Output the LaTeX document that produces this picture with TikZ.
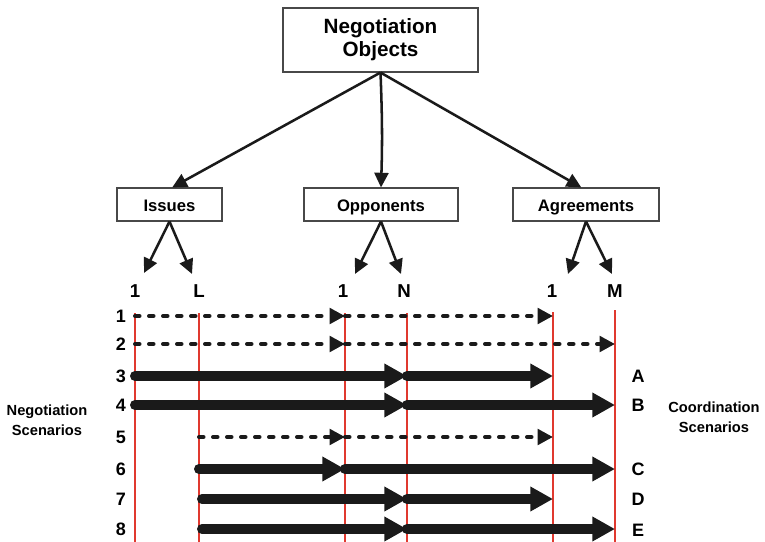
\documentclass[tikz,border=0pt]{standalone}
\usepackage{fontspec}
\setmainfont{Liberation Sans}
\usetikzlibrary{arrows.meta}
\definecolor{redline}{HTML}{E0392F}
\definecolor{ink}{HTML}{1A1A1A}
\begin{document}
\begin{tikzpicture}[x=0.75pt,y=-0.75pt,
  box/.style={draw=ink!80,line width=0.8pt,fill=white,inner sep=0pt,minimum height=24.75pt,
    text height=12pt,text depth=2.2pt,
    font=\fontsize{12.5}{15}\selectfont\bfseries},
  treearrow/.style={draw=ink,line width=1.9pt,-{Triangle[length=11pt,width=10.5pt]}},
  axlabel/.style={font=\fontsize{14}{16}\selectfont\bfseries,inner sep=0pt},
  rowlabel/.style={font=\fontsize{13.5}{16}\selectfont\bfseries,inner sep=0pt},
  sidelabel/.style={font=\fontsize{11}{15}\selectfont\bfseries,align=center,inner sep=0pt},
  gridline/.style={draw=redline,line width=1.2pt},
  dashrow/.style={draw=ink,line width=3pt,line cap=round,dash pattern=on 3.4pt off 7.1pt,
    -{Triangle[length=11.5pt,width=11.5pt]}},
  thickrow/.style={draw=ink,line width=7.5pt,line cap=round,
    -{Triangle[length=17pt,width=17.5pt]}}
]
\useasboundingbox (0,0) rectangle (765,542);

% top box
\node[draw=ink!80,line width=0.8pt,minimum width=146.25pt,minimum height=48pt,inner sep=0pt,
  align=center,font=\fontsize{15.5}{17.25}\selectfont\bfseries] (top) at (380.5,40)
  {Negotiation\\Objects};

% second level
\node[box,minimum width=78.75pt] (issues) at (169.5,204.5) {Issues};
\node[box,minimum width=115.5pt] (opp) at (381,204.5) {Opponents};
\node[box,minimum width=109.5pt] (agr) at (586,204.5) {Agreements};

\draw[treearrow] (top.south) -- ([xshift=2pt]issues.north);
\draw[treearrow] (top.south) to[bend left=2] (opp.north);
\draw[treearrow] (top.south) -- ([xshift=-3.5pt]agr.north);

% tips of lower arrows
\coordinate (ti1) at (144,273);
\coordinate (tiL) at (192,274);
\coordinate (to1) at (355,274);
\coordinate (toN) at (401,274);
\coordinate (ta1) at (568,274);
\coordinate (taM) at (612,274);
\draw[treearrow] (issues.south) -- (ti1);
\draw[treearrow] (issues.south) -- (tiL);
\draw[treearrow] (opp.south) -- (to1);
\draw[treearrow] (opp.south) -- (toN);
\draw[treearrow] (agr.south) -- (ta1);
\draw[treearrow] (agr.south) -- (taM);

% axis labels
\node[axlabel] (l1) at (135,291) {1};
\node[axlabel] (lL) at (199,291) {L};
\node[axlabel] (n1) at (343,291) {1};
\node[axlabel] (nN) at (404,291) {N};
\node[axlabel] (m1) at (552,291) {1};
\node[axlabel] (mM) at (615,291) {M};

% grid lines
\foreach \x/\t in {135/313,199/313,345/313,407/313,553/312,615/310}
  \draw[gridline] (\x,\t) -- (\x,542);

% grid coordinates
\foreach \r/\y in {1/316,2/344,3/376,4/405,5/437,6/469,7/499,8/529}{
  \foreach \c/\x in {a/135,b/199,c/345,d/407,e/553,f/615}
    \coordinate (\c\r) at (\x,\y);
  \node[rowlabel] (row\r) at (121,\y) {\r};
}
\coordinate (b7s) at (202,499);
\coordinate (b8s) at (202,529);

% scenario rows
\draw[dashrow] (a1) -- (c1);
\draw[dashrow] (c1) -- (e1);
\draw[dashrow] (a2) -- (c2);
\draw[dashrow] (c2) -- (f2);
\draw[thickrow] (a3) -- (d3);
\draw[thickrow] (d3) -- (e3);
\draw[thickrow] (a4) -- (d4);
\draw[thickrow] (d4) -- (f4);
\draw[dashrow] (b5) -- (c5);
\draw[dashrow] (c5) -- (e5);
\draw[thickrow] (b6) -- (c6);
\draw[thickrow] (c6) -- (f6);
\draw[thickrow] (b7s) -- (d7);
\draw[thickrow] (d7) -- (e7);
\draw[thickrow] (b8s) -- (d8);
\draw[thickrow] (d8) -- (f8);

% coordination letters
\node[rowlabel] (sA) at (638,376) {A};
\node[rowlabel] (sB) at (638,405) {B};
\node[rowlabel] (sC) at (638,469) {C};
\node[rowlabel] (sD) at (638,499) {D};
\node[rowlabel] (sE) at (638,530) {E};

% side labels
\node[sidelabel] (negsc) at (47,420) {Negotiation\\Scenarios};
\node[sidelabel] (coorsc) at (714,417) {Coordination\\Scenarios};
\end{tikzpicture}
\end{document}
